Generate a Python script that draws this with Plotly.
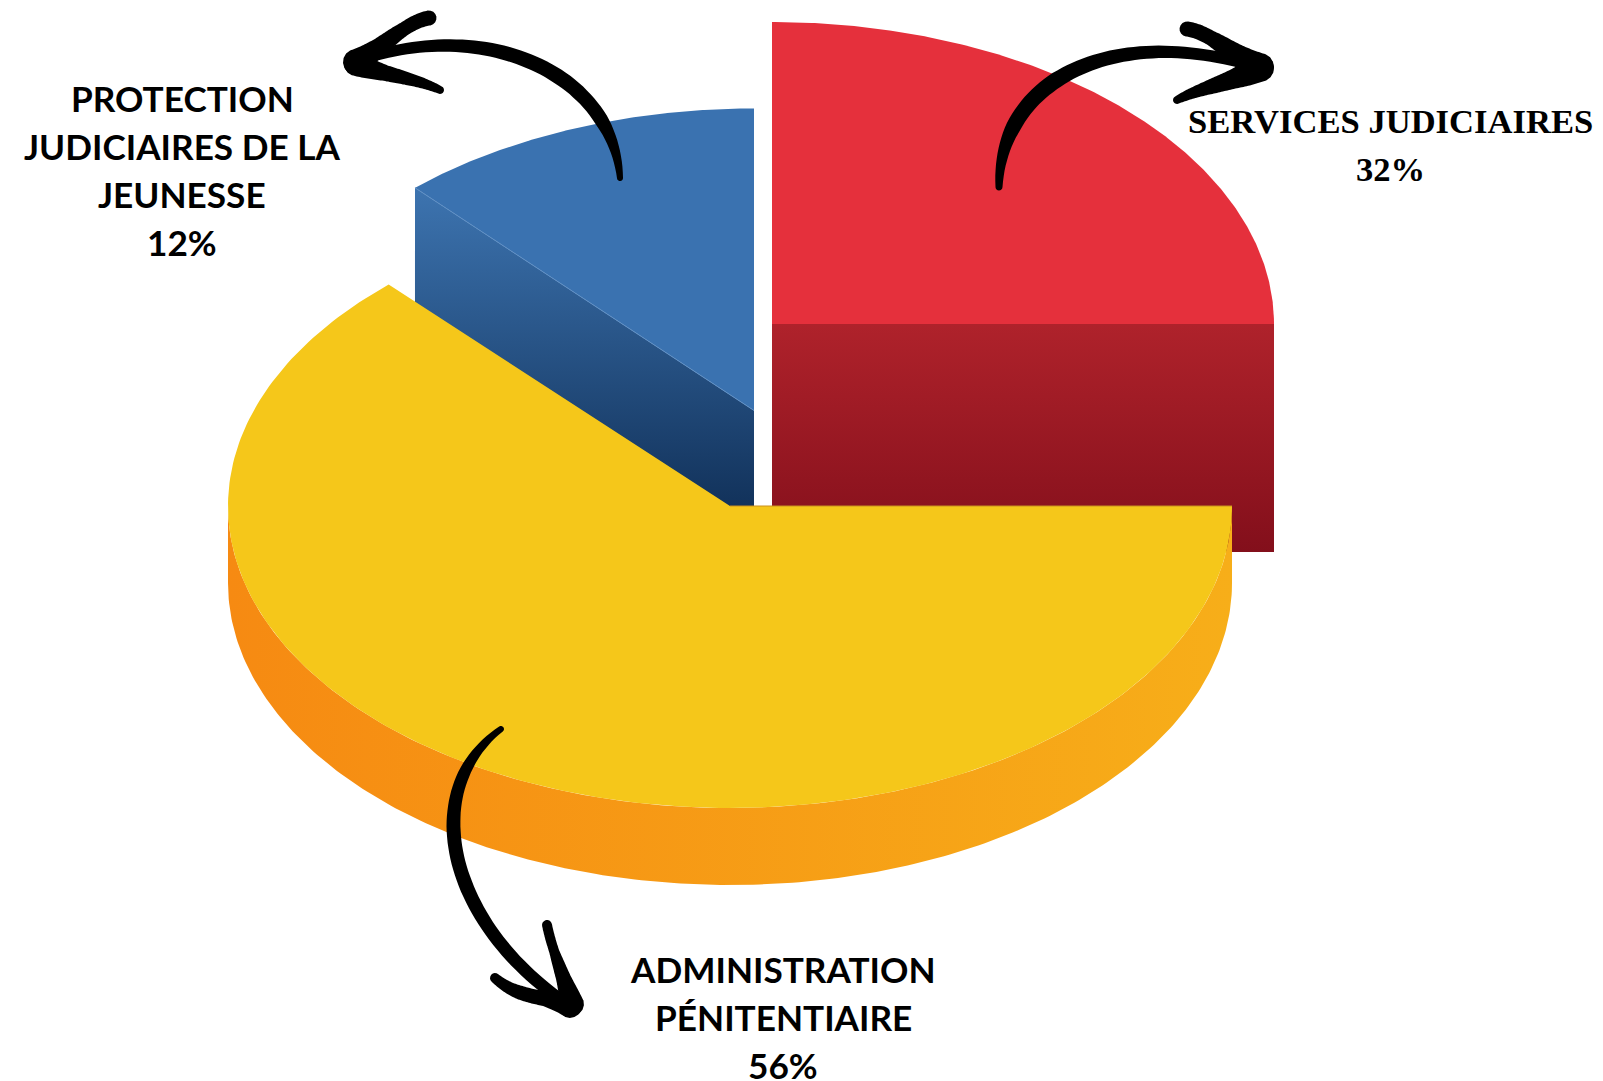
import numpy as np
import plotly.graph_objects as go

# ---- data ----
categories = ["Administration pénitentiaire", "Services judiciaires", "Protection judiciaires de la jeunesse"]
printed_pct = [56, 32, 12]          # percentages printed on the labels
drawn_share = [63.1, 25.0, 11.8]    # share of the circle each slice really occupies in the picture
label_lines = [
    ["ADMINISTRATION", "PÉNITENTIAIRE"],
    ["SERVICES JUDICIAIRES"],
    ["PROTECTION", "JUDICIAIRES DE LA", "JEUNESSE"],
]

# ---- styles and layout ----
W, H = 1603, 1081
RX, RY = 502.0, 302.0
slice_center = [(730, 506), (772, 324), (754, 410.5)]
slice_depth = [77, 228, 228]
top_color = ["#F5C71A", "#E5303C", "#3A72B0"]
side_grad = [
    ("horizontal", "#F68A12", "#F7AE19"),
    ("vertical", "#830F1B", "#AF222B"),
    ("vertical", "#001738", "#3D74B0"),
]
label_x = [783, 1390, 182]
label_y = [969, 121, 98]
line_gap = 48.0
label_font = ["Lato", "Liberation Serif", "Lato"]
label_size = [35.2, 34.6, 35.2]

# slice angles, measured clockwise from 3 o'clock (y axis is reversed)
sweep = [s * 3.6 for s in drawn_share]
start = [0.0, 270.0, 270.0 - sweep[2]]


def arc(i, a0, a1, n=240):
    t = np.radians(np.linspace(a0, a1, n))
    cx, cy = slice_center[i]
    return cx + RX * np.cos(t), cy + RY * np.sin(t)


fig = go.Figure()


def add_side(i, xs, ys):
    kind, c0, c1 = side_grad[i]
    fig.add_trace(go.Scatter(
        x=xs, y=ys, mode="lines", line=dict(width=0), fill="toself",
        fillgradient=dict(type=kind, colorscale=[[0, c0], [1, c1]]),
        hoverinfo="skip", showlegend=False))


def add_top(i):
    cx, cy = slice_center[i]
    ax, ay = arc(i, start[i], start[i] + sweep[i])
    fig.add_trace(go.Scatter(
        x=np.r_[cx, ax, cx], y=np.r_[cy, ay, cy], mode="lines", line=dict(width=0),
        fill="toself", fillcolor=top_color[i], hoverinfo="skip", showlegend=False))


# red: outward-facing cut plane along its horizontal edge
i = 1
cx, cy = slice_center[i]
add_side(i, [cx, cx + RX, cx + RX, cx, cx], [cy, cy, cy + slice_depth[i], cy + slice_depth[i], cy])
add_top(i)

# blue: cut plane along the edge shared with yellow
i = 2
cx, cy = slice_center[i]
tx, ty = arc(i, start[i], start[i], 1)
d = slice_depth[i]
add_side(i, [tx[0], cx, cx, tx[0], tx[0]], [ty[0], cy, cy + d, ty[0] + d, ty[0]])
add_top(i)
fig.add_trace(go.Scatter(x=[tx[0], cx], y=[ty[0], cy], mode="lines",
                         line=dict(color="#5F8FC4", width=1), hoverinfo="skip", showlegend=False))

# yellow: curved front wall, then top
i = 0
fx, fy = arc(i, 0, 180)
d = slice_depth[i]
add_side(i, np.r_[fx, fx[::-1], fx[0]], np.r_[fy, fy[::-1] + d, fy[0]])
add_top(i)
cx, cy = slice_center[i]
fig.add_trace(go.Scatter(x=[cx, cx + RX], y=[cy, cy], mode="lines",
                         line=dict(color="#C9901F", width=1), hoverinfo="skip", showlegend=False))


# ---- hand-drawn arrows, decoration only ----
def bez(p0, p1, p2, p3, n=60):
    t = np.linspace(0, 1, n)[:, None]
    p0, p1, p2, p3 = map(np.array, (p0, p1, p2, p3))
    return (1 - t) ** 3 * p0 + 3 * (1 - t) ** 2 * t * p1 + 3 * (1 - t) * t ** 2 * p2 + t ** 3 * p3


def stroke(ctrl, widths):
    pts = bez(*ctrl)
    tan = np.gradient(pts, axis=0)
    tan /= np.linalg.norm(tan, axis=1, keepdims=True)
    nor = np.c_[-tan[:, 1], tan[:, 0]]
    w = np.interp(np.linspace(0, 1, len(pts)), np.linspace(0, 1, len(widths)), widths)[:, None] / 2
    a, b = pts + nor * w, (pts - nor * w)[::-1]

    def cap(c, r, d0):
        ang = np.linspace(0, np.pi, 9)[1:-1]
        base = np.arctan2(d0[1], d0[0])
        return np.c_[c[0] + r * np.cos(base - ang), c[1] + r * np.sin(base - ang)]
    ring = np.vstack([a, cap(pts[-1], w[-1, 0], nor[-1]), b, cap(pts[0], w[0, 0], -nor[0])])
    return "M" + "L".join(f"{x:.1f},{y:.1f}" for x, y in ring) + "Z"


arrow_strokes = [
    # right arrow
    (((999, 187), (1000, 75), (1120, 23), (1260, 68)), [7, 15, 16, 14, 12, 11]),
    (((1187, 29), (1210, 32), (1232, 55), (1260, 67)), [15, 15, 20, 28]),
    (((1177, 100), (1200, 88), (1232, 82), (1260, 68)), [8, 13, 19, 28]),
    # left arrow
    (((620, 178), (612, 70), (480, 16), (356, 62)), [6, 14, 15, 14, 12, 10]),
    (((429, 18), (405, 22), (380, 50), (356, 62)), [15, 14, 18, 26]),
    (((440, 90), (415, 78), (385, 75), (356, 64)), [8, 12, 16, 24]),
    # bottom arrow
    (((501, 729), (417, 790), (447, 925), (570, 1006)), [6, 12, 14, 14, 13, 12]),
    (((547, 925), (552, 950), (565, 980), (572, 1004)), [10, 10, 15, 24]),
    (((495, 978), (520, 1000), (545, 995), (570, 1006)), [10, 14, 15, 24]),
]
shapes = [dict(type="path", path=stroke(c, w), fillcolor="black", line=dict(width=0),
               xref="x", yref="y", layer="above") for c, w in arrow_strokes]

# ---- labels ----
annotations = []
for i, lines in enumerate(label_lines):
    for j, txt in enumerate(lines + [f"{printed_pct[i]}%"]):
        annotations.append(dict(
            x=label_x[i], y=label_y[i] + j * line_gap, xref="x", yref="y", text=txt,
            showarrow=False, xanchor="center", yanchor="middle",
            font=dict(family=label_font[i], size=label_size[i], color="black", weight=700)))

fig.update_layout(
    width=W, height=H, margin=dict(l=0, r=0, t=0, b=0),
    paper_bgcolor="white", plot_bgcolor="white", showlegend=False,
    xaxis=dict(range=[0, W], visible=False, fixedrange=True),
    yaxis=dict(range=[H, 0], visible=False, fixedrange=True),
    shapes=shapes, annotations=annotations)

fig.write_html("out.html", config=dict(displayModeBar=False),
               post_script="document.body.style.margin='0';document.documentElement.style.overflow='hidden';")
